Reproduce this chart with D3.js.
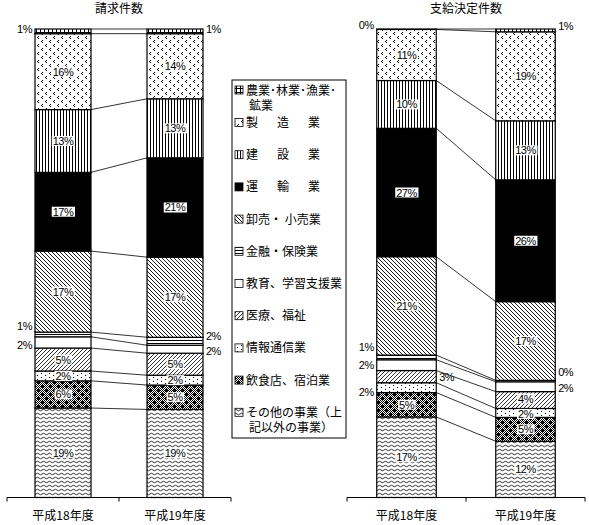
<!DOCTYPE html>
<html>
<head>
<meta charset="utf-8">
<script src="https://cdn.jsdelivr.net/npm/d3@7"></script>
<style>
  body { margin: 0; background: #fff; }
  svg { display: block; font-family: "Noto Sans CJK JP", sans-serif; }
</style>
</head>
<body>
<svg id="chart" width="589" height="525"></svg>
<script>
// === Data (percent share by industry, legend order top -> bottom) ===
const years = ["平成18年度", "平成19年度"];
const chartTitles = ["請求件数", "支給決定件数"];
const industries = [
    "農業･林業･漁業･鉱業", "製造業", "建設業", "運輸業", "卸売・ 小売業", "金融・保険業",
    "教育、学習支援業", "医療、福祉", "情報通信業", "飲食店、宿泊業", "その他の事業（上記以外の事業）"
];
const claims18 = [1.0, 16.2, 13.4, 16.8, 17.3, 1.0, 2.4, 4.9, 2.1, 5.8, 19.1];
const claims19 = [1.0, 13.9, 12.6, 21.2, 17.1, 1.7, 1.7, 4.7, 2.1, 5.2, 18.8];
const decided18 = [0.1, 10.9, 10.2, 27.4, 21.0, 1.0, 2.3, 2.6, 2.1, 5.2, 17.2];
const decided19 = [0.6, 19.0, 12.6, 26.0, 16.8, 0.3, 2.1, 3.6, 1.9, 5.1, 12.0];

// === Layout ===
const panels = [
    { title: chartTitles[0], values: [claims18, claims19], range: [7, 231] },
    { title: chartTitles[1], values: [decided18, decided19], range: [347, 585] }
];
const Y_TOP = 29, Y_BOTTOM = 497.5;
const PCT_FONT = '"Liberation Sans", Arial, sans-serif';

// labels that sit outside the bar: "panel-bar-industry" -> [side, dy]
const outside = {
    "0-0-0": ["left", -2], "0-0-5": ["left", -8], "0-0-6": ["left", 3],
    "0-1-0": ["right", -2], "0-1-5": ["right", -5], "0-1-6": ["right", 2],
    "1-0-0": ["left", -4], "1-0-5": ["left", -10], "1-0-6": ["left", 0],
    "1-0-7": ["right", 0], "1-0-8": ["left", 4],
    "1-1-0": ["right", -4], "1-1-5": ["right", -9], "1-1-6": ["right", 1]
};
// small nudges for crowded inside labels
const nudge = { "1-1-7": -1.5, "1-1-8": 1 };

const svg = d3.select("#chart");
const defs = svg.append("defs");

// Helper: user-space pattern with white background
function addPattern(id, w, h, draw) {
    const p = defs.append("pattern")
        .attr("id", id)
        .attr("patternUnits", "userSpaceOnUse")
        .attr("width", w)
        .attr("height", h);
    p.append("rect").attr("width", w).attr("height", h).attr("fill", "#fff");
    draw(p);
}
function dots(p, pts) {
    pts.forEach(([px, py]) => p.append("rect").attr("x", px).attr("y", py).attr("width", 1).attr("height", 1).attr("fill", "#000"));
}

addPattern("p-agri", 4, 4, p => p.append("path").attr("d", "M0 0.5H4M0.5 0V4").attr("stroke", "#000"));
addPattern("p-mfg", 8, 8, p => dots(p, [[2, 0], [1, 1], [2, 2], [6, 4], [5, 5], [6, 6]]));
addPattern("p-cons", 3, 3, p => p.append("rect").attr("width", 1).attr("height", 3).attr("fill", "#000"));
addPattern("p-retail", 4, 4, p => p.append("path").attr("d", "M-1 -1L5 5M-1 3L1 5M3 -1L5 1").attr("stroke", "#000").attr("stroke-width", 0.9));
addPattern("p-fin", 4, 3, p => p.append("rect").attr("y", 1).attr("width", 4).attr("height", 1).attr("fill", "#000"));
addPattern("p-med", 4, 4, p => p.append("path").attr("d", "M-1 5L5 -1M-1 1L1 -1M3 5L5 3").attr("stroke", "#000").attr("stroke-width", 0.8));
addPattern("p-info", 8, 4, p => dots(p, [[1, 1], [5, 3]]));
addPattern("p-chk", 2, 2, p => dots(p, [[0, 0], [1, 1]]));
addPattern("p-food", 8, 8, p => {
    p.append("rect").attr("width", 8).attr("height", 8).attr("fill", "url(#p-chk)");
    p.append("rect").attr("x", 1).attr("y", 1).attr("width", 3).attr("height", 3).attr("fill", "#000");
    p.append("rect").attr("x", 5).attr("y", 5).attr("width", 3).attr("height", 3).attr("fill", "#000");
});
addPattern("p-other", 6, 4, p => p.append("path").attr("d", "M0 2Q1.5 0.5 3 2T6 2").attr("fill", "none").attr("stroke", "#000").attr("stroke-width", 0.8));

const fills = ["url(#p-agri)", "url(#p-mfg)", "url(#p-cons)", "#000", "url(#p-retail)", "url(#p-fin)",
               "#fff", "url(#p-med)", "url(#p-info)", "url(#p-food)", "url(#p-other)"];

const y = d3.scaleLinear().domain([0, 100]).range([Y_BOTTOM, Y_TOP]);

panels.forEach((panel, pi) => {
    // rows for d3.stack, bottom series = last legend entry
    const rows = years.map((yr, yi) => {
        const r = { year: yr };
        industries.forEach((name, k) => r[name] = panel.values[yi][k]);
        return r;
    });
    const series = d3.stack().keys(industries.slice().reverse())(rows);

    const x = d3.scaleBand()
        .domain(years)
        .range(panel.range)
        .paddingInner(0.5)
        .paddingOuter(0.25);
    const g = svg.append("g");

    // title
    g.append("text")
        .attr("x", (panel.range[0] + panel.range[1]) / 2)
        .attr("y", 13)
        .attr("text-anchor", "middle")
        .attr("font-size", 12)
        .text(panel.title);

    // series lines between the two bars
    series.forEach(s => {
        g.append("line")
            .attr("x1", x(years[0]) + x.bandwidth())
            .attr("x2", x(years[1]))
            .attr("y1", y(s[0][1]))
            .attr("y2", y(s[1][1]))
            .attr("stroke", "#000")
            .attr("stroke-width", 0.8);
    });

    // stacked segments
    series.forEach(s => {
        const k = industries.indexOf(s.key);
        g.selectAll(null)
            .data(s)
            .join("rect")
            .attr("x", d => x(d.data.year))
            .attr("y", d => y(d[1]))
            .attr("width", x.bandwidth())
            .attr("height", d => y(d[0]) - y(d[1]))
            .attr("fill", fills[k])
            .attr("stroke", "#000")
            .attr("stroke-width", 1.2);
    });

    // percent labels
    series.forEach(s => {
        const k = industries.indexOf(s.key);
        s.forEach((d, bi) => {
            const key = `${pi}-${bi}-${k}`;
            const text = Math.round(d[1] - d[0]) + "%";
            const mid = (y(d[0]) + y(d[1])) / 2;
            const place = outside[key];
            const bx = x(d.data.year);
            if (place) {
                const [side, dy] = place;
                g.append("text")
                    .attr("x", side === "left" ? bx - 3 : bx + x.bandwidth() + 3)
                    .attr("y", mid + dy + 4)
                    .attr("text-anchor", side === "left" ? "end" : "start")
                    .attr("font-family", PCT_FONT)
                    .attr("font-size", 11)
                    .attr("letter-spacing", -0.5)
                    .text(text);
            } else {
                const t = g.append("text")
                    .attr("x", bx + x.bandwidth() / 2)
                    .attr("y", mid + 4 + (nudge[key] || 0))
                    .attr("text-anchor", "middle")
                    .attr("font-family", PCT_FONT)
                    .attr("font-size", 11)
                    .attr("letter-spacing", -0.5)
                    .text(text);
                const bb = t.node().getBBox();
                g.insert("rect", () => t.node())
                    .attr("x", bb.x - 1)
                    .attr("y", bb.y + 1)
                    .attr("width", bb.width + 2)
                    .attr("height", bb.height - 2)
                    .attr("fill", "#fff");
            }
        });
    });

    // category axis: baseline plus boundary ticks
    const [r0, r1] = x.range();
    g.append("line")
        .attr("x1", r0).attr("x2", r1)
        .attr("y1", Y_BOTTOM).attr("y2", Y_BOTTOM)
        .attr("stroke", "#000");
    [r0, (r0 + r1) / 2, r1].forEach(tx => {
        g.append("line")
            .attr("x1", tx).attr("x2", tx)
            .attr("y1", Y_BOTTOM).attr("y2", Y_BOTTOM + 4)
            .attr("stroke", "#000");
    });
    g.append("g")
        .attr("transform", `translate(0,${Y_BOTTOM})`)
        .call(d3.axisBottom(x).tickSize(0).tickPadding(14))
        .call(a => a.select(".domain").remove())
        .call(a => a.attr("font-family", null))
        .selectAll("text")
        .attr("font-size", 12)
        .attr("fill", "#000");
});

// === Legend ===
const legend = svg.append("g");
legend.append("rect")
    .attr("x", 232).attr("y", 80)
    .attr("width", 114).attr("height", 358)
    .attr("fill", "#fff")
    .attr("stroke", "#000");

const spaced = new Set(["製造業", "建設業", "運輸業"]);
const wrapAt = { 0: 9, 10: 8 };  // two-line entries: characters on first line

industries.forEach((name, k) => {
    const cy = k === 0 ? 90 : 122.5 + (k - 1) * 32.2;
    legend.append("rect")
        .attr("x", 235).attr("y", cy - 4)
        .attr("width", 8).attr("height", 8)
        .attr("fill", fills[k])
        .attr("stroke", "#000")
        .attr("stroke-width", 0.8);
    const t = legend.append("text")
        .attr("x", 246)
        .attr("y", cy + 4.5)
        .attr("font-size", 12);
    if (spaced.has(name)) {
        t.attr("letter-spacing", 19).text(name);
    } else if (wrapAt[k]) {
        t.append("tspan").text(name.slice(0, wrapAt[k]));
        t.append("tspan").attr("x", 249).attr("dy", 15.5).text(name.slice(wrapAt[k]));
    } else {
        t.text(name);
    }
});
</script>
</body>
</html>
